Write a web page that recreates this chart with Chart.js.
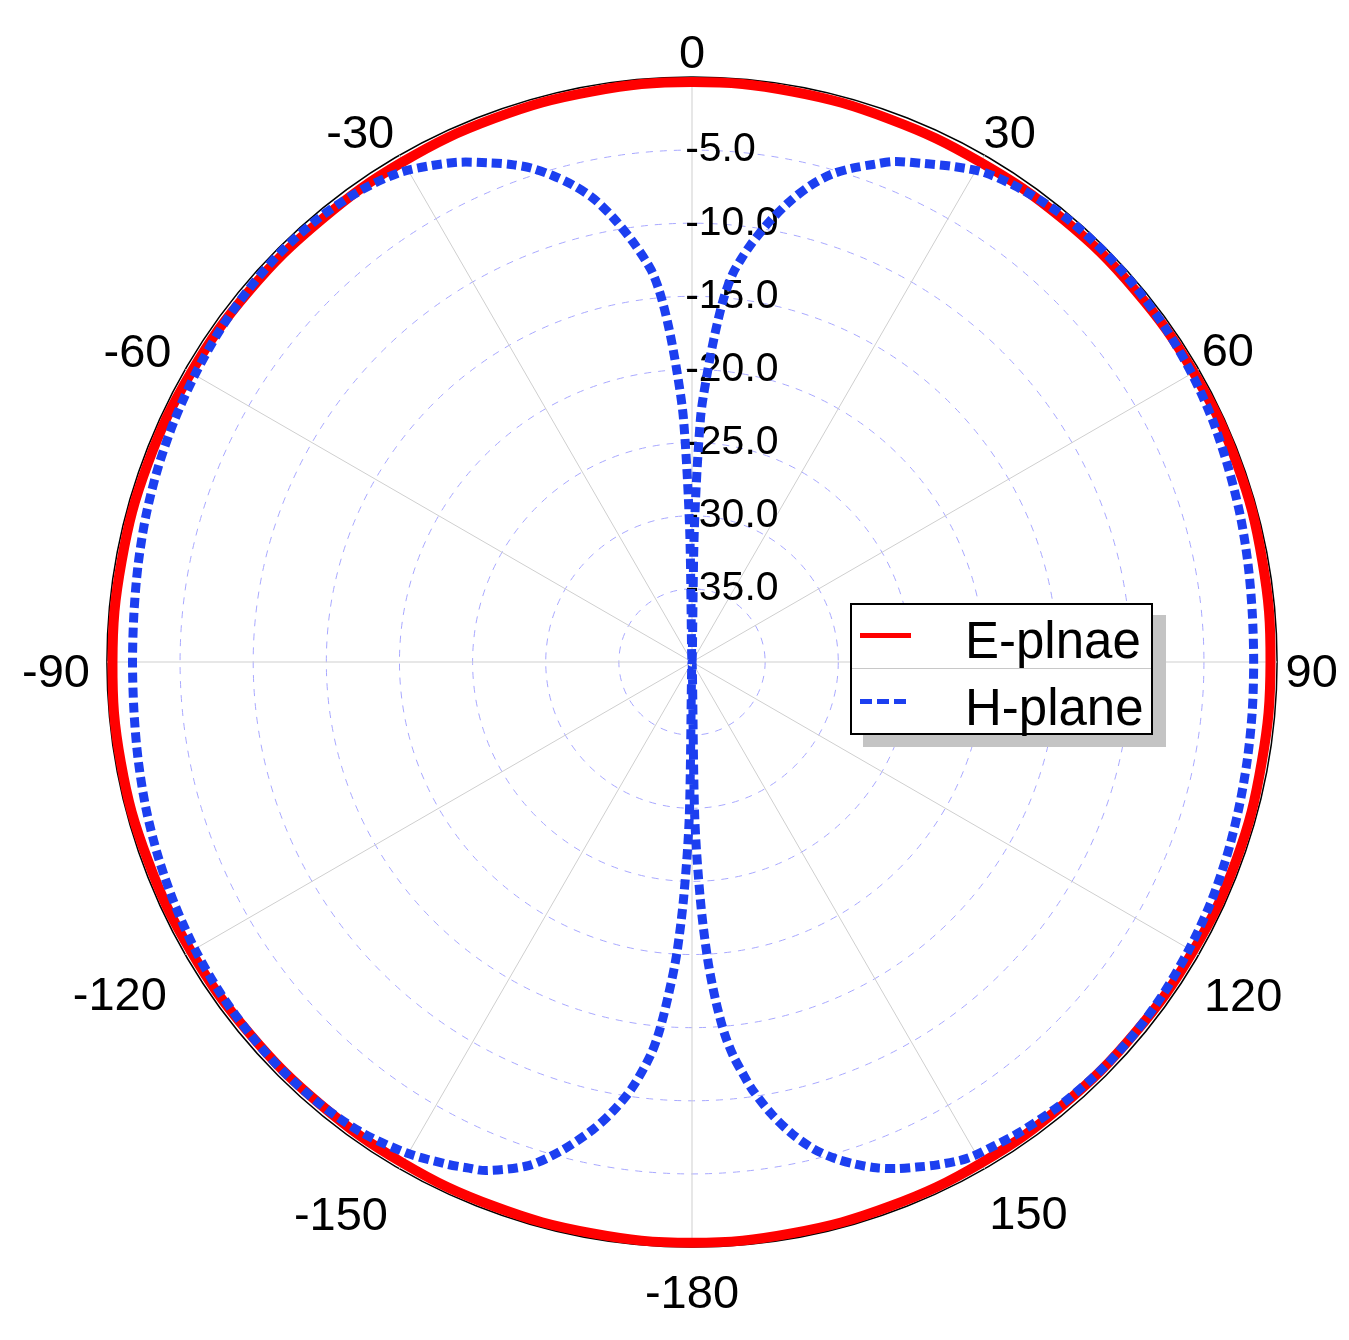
<!DOCTYPE html>
<html lang="en">
  <head>
    <meta charset="UTF-8" />
    <title>E-plane / H-plane radiation pattern</title>
    <script src="https://cdn.jsdelivr.net/npm/chart.js@4.4.1/dist/chart.umd.min.js"></script>
    <style>
      body { margin: 0; overflow: hidden; background: #fff; font-family: "Liberation Sans", Arial, sans-serif; }
      #wrap { position: relative; width: 1349px; height: 1340px; }
      #polarChart { position: absolute; left: 10px; top: 14px; }
      #legend {
        position: absolute; left: 850px; top: 603px; width: 303px; height: 132px;
        box-sizing: border-box; border: 2px solid #000; background: #fff;
        box-shadow: 13px 12px 0 #c4c4c4;
      }
      #legend .sample { position: absolute; left: 8px; height: 5px; }
      #legend .name { position: absolute; left: 113px; font-size: 51px; line-height: 51px; color: #000; white-space: pre; }
      #legend .sep { position: absolute; left: 0; right: 0; top: 63px; height: 1px; background: #c8c8c8; }
    </style>
  </head>
  <body>
    <div id="wrap">
      <canvas id="polarChart" width="1340" height="1323"></canvas>
      <div id="legend"></div>
    </div>

    <script>
      // angle labels every 30 deg, clockwise from the top
      const angleTicks = ['0', '30', '60', '90', '120', '150', '-180', '-150', '-120', '-90', '-60', '-30'];
      const dbMin = -40;
      const dbMax = 0;
      const dbStep = 5;

      // E-plane, read every 10 deg (0..350, clockwise)
      const eAngles = [0, 10, 20, 30, 40, 50, 60, 70, 80, 90, 100, 110, 120, 130, 140, 150, 160, 170,
        180, 190, 200, 210, 220, 230, 240, 250, 260, 270, 280, 290, 300, 310, 320, 330, 340, 350];
      const eValues = [-0.35, -0.4, -0.5, -0.55, -0.5, -0.45, -0.4, -0.35, -0.4, -0.45, -0.45, -0.4, -0.45, -0.5, -0.5, -0.45, -0.4, -0.35,
        -0.3, -0.35, -0.4, -0.45, -0.5, -0.5, -0.45, -0.4, -0.35, -0.38, -0.4, -0.4, -0.45, -0.5, -0.55, -0.5, -0.45, -0.4];

      // H-plane, denser near the two nulls
      const hAngles = [0, 1, 2, 3, 4, 5, 6, 7, 8, 9, 10, 12, 14, 16, 18, 20, 22, 25, 28, 31, 35, 40, 45, 50, 55, 60, 65, 70, 75, 80, 85,
        90, 95, 100, 105, 110, 115, 120, 125, 130, 135, 140, 145, 148, 151, 154, 156, 158, 160, 162, 164, 166, 168, 170, 172, 173, 174, 175, 176, 177, 178, 179,
        180, 181, 182, 183, 184, 185, 186, 188, 190, 192, 195, 198, 202, 204, 206, 210, 215, 220, 225, 230, 235, 240, 245, 250, 255, 260, 265,
        270, 275, 280, 285, 290, 295, 300, 305, 310, 315, 320, 325, 329, 332, 335, 338, 340, 342, 344, 346, 348, 350, 352, 354, 355, 356, 357, 358, 359];
      const hValues = [-40, -31, -23.3, -20.3, -17.5, -15.0, -13.3, -12.2, -11.2, -10.3, -9.4, -7.8, -6.4, -5.3, -4.5, -3.8, -3.1, -2.4, -1.65, -1.0, -0.6, -0.3, -0.25, -0.3, -0.4, -0.55, -0.75, -1.0, -1.2, -1.4, -1.55,
        -1.6, -1.55, -1.45, -1.3, -1.1, -0.9, -0.75, -0.6, -0.5, -0.5, -0.6, -0.8, -1.0, -1.2, -1.75, -2.2, -2.65, -3.2, -3.9, -4.7, -5.7, -7.0, -8.6, -10.5, -11.7, -12.9, -14.5, -16.8, -19.7, -23.8, -29.5,
        -40, -29.5, -24, -20, -17.3, -14.8, -13.0, -10.6, -8.8, -7.3, -5.4, -3.8, -2.5, -2.15, -1.8, -1.2, -0.7, -0.5, -0.45, -0.5, -0.6, -0.75, -0.95, -1.15, -1.35, -1.55, -1.7,
        -1.75, -1.7, -1.55, -1.35, -1.15, -0.95, -0.75, -0.55, -0.4, -0.3, -0.35, -0.6, -1.0, -1.6, -2.3, -3.2, -3.8, -4.5, -5.4, -6.4, -7.6, -9.2, -11.0, -13.0, -14.6, -17.0, -20, -23.4, -31];

      // per angle label: gap to the circle and box height (the original is not symmetric)
      const labelGap = [-6, -2, 3.5, 8.5, 6.1, 9.6, 20, 23, 21.3, 17, 16, 10.5];
      const labelLine = [56.4, 44.4, 29, 24, 81, 78.8, 56.4, 56.4, 64, 24, 14.4, 23];

      const degrees = Array.from({ length: 360 }, (_, i) => i);

      function toSeries(angles, values) {
        const out = degrees.map(() => null);
        angles.forEach((a, i) => { out[a] = values[i]; });
        return out;
      }

      const fontFamily = '"Liberation Sans", Arial, sans-serif';
      const tickFontSize = 41;

      const chart = new Chart(document.getElementById('polarChart'), {
        type: 'radar',
        data: {
          labels: degrees,
          datasets: [
            {
              label: 'E-plnae',
              data: toSeries(eAngles, eValues),
              borderColor: '#ff0000',
              borderWidth: 10,
              fill: false,
              spanGaps: true,
              tension: 0.4,
              pointRadius: 0,
              pointHitRadius: 0,
              order: 1
            },
            {
              label: 'H-plane',
              data: toSeries(hAngles, hValues),
              borderColor: '#1c3ff0',
              borderWidth: 9,
              borderDash: [10, 5],
              fill: false,
              spanGaps: true,
              tension: 0.3,
              pointRadius: 0,
              pointHitRadius: 0,
              order: 0
            }
          ]
        },
        options: {
          responsive: false,
          animation: false,
          events: [],
          plugins: { legend: { display: false }, tooltip: { enabled: false } },
          scales: {
            r: {
              min: dbMin,
              max: dbMax,
              ticks: {
                stepSize: dbStep,
                color: '#000',
                font: { family: fontFamily, size: tickFontSize, lineHeight: 1 },
                showLabelBackdrop: false,
                backdropPadding: 0,
                // leading spaces push the centred text to the right of the axis
                callback: v => {
                  if (v === dbMin || v === dbMax) return '';
                  const s = v.toFixed(1);
                  return ' '.repeat(s.length * 2 - 3) + s;
                }
              },
              grid: {
                circular: true,
                color: c => c.tick && c.tick.value === dbMax ? '#000' : '#a8a8ff',
                lineWidth: c => c.tick && c.tick.value === dbMax ? 1.5 : 1
              },
              border: {
                dash: c => c.tick && c.tick.value === dbMax ? [] : [7, 7]
              },
              angleLines: {
                color: '#cfcfcf',
                lineWidth: c => c.index % 30 === 0 ? 1 : 0
              },
              pointLabels: {
                color: '#000',
                font: c => ({
                  family: fontFamily,
                  size: 47,
                  lineHeight: (c.index % 30 === 0 ? labelLine[c.index / 30] : 56.4) + 'px'
                }),
                padding: c => c.index % 30 === 0 ? labelGap[c.index / 30] - tickFontSize / 2 : -30,
                callback: (label, i) => {
                  if (i % 30 !== 0) return '';
                  const t = angleTicks[i / 30];
                  return (i === 90 || i === 270) ? ['', t] : t;
                }
              }
            }
          }
        }
      });

      // legend box drawn in html, placed inside the plot like the original
      const legend = document.getElementById('legend');
      const rows = [{ sampleTop: 27.5, width: 51, textTop: 10 }, { sampleTop: 94, width: 47, textTop: 77 }];
      chart.data.datasets.forEach((ds, i) => {
        const sample = document.createElement('div');
        sample.className = 'sample';
        sample.style.top = rows[i].sampleTop + 'px';
        sample.style.width = rows[i].width + 'px';
        sample.style.background = ds.borderDash
          ? 'repeating-linear-gradient(90deg, ' + ds.borderColor + ' 0 12px, transparent 12px 17px)'
          : ds.borderColor;
        legend.appendChild(sample);
        const name = document.createElement('div');
        name.className = 'name';
        name.style.top = rows[i].textTop + 'px';
        name.textContent = ds.label;
        legend.appendChild(name);
      });
      const sep = document.createElement('div');
      sep.className = 'sep';
      legend.appendChild(sep);
    </script>
  </body>
</html>
